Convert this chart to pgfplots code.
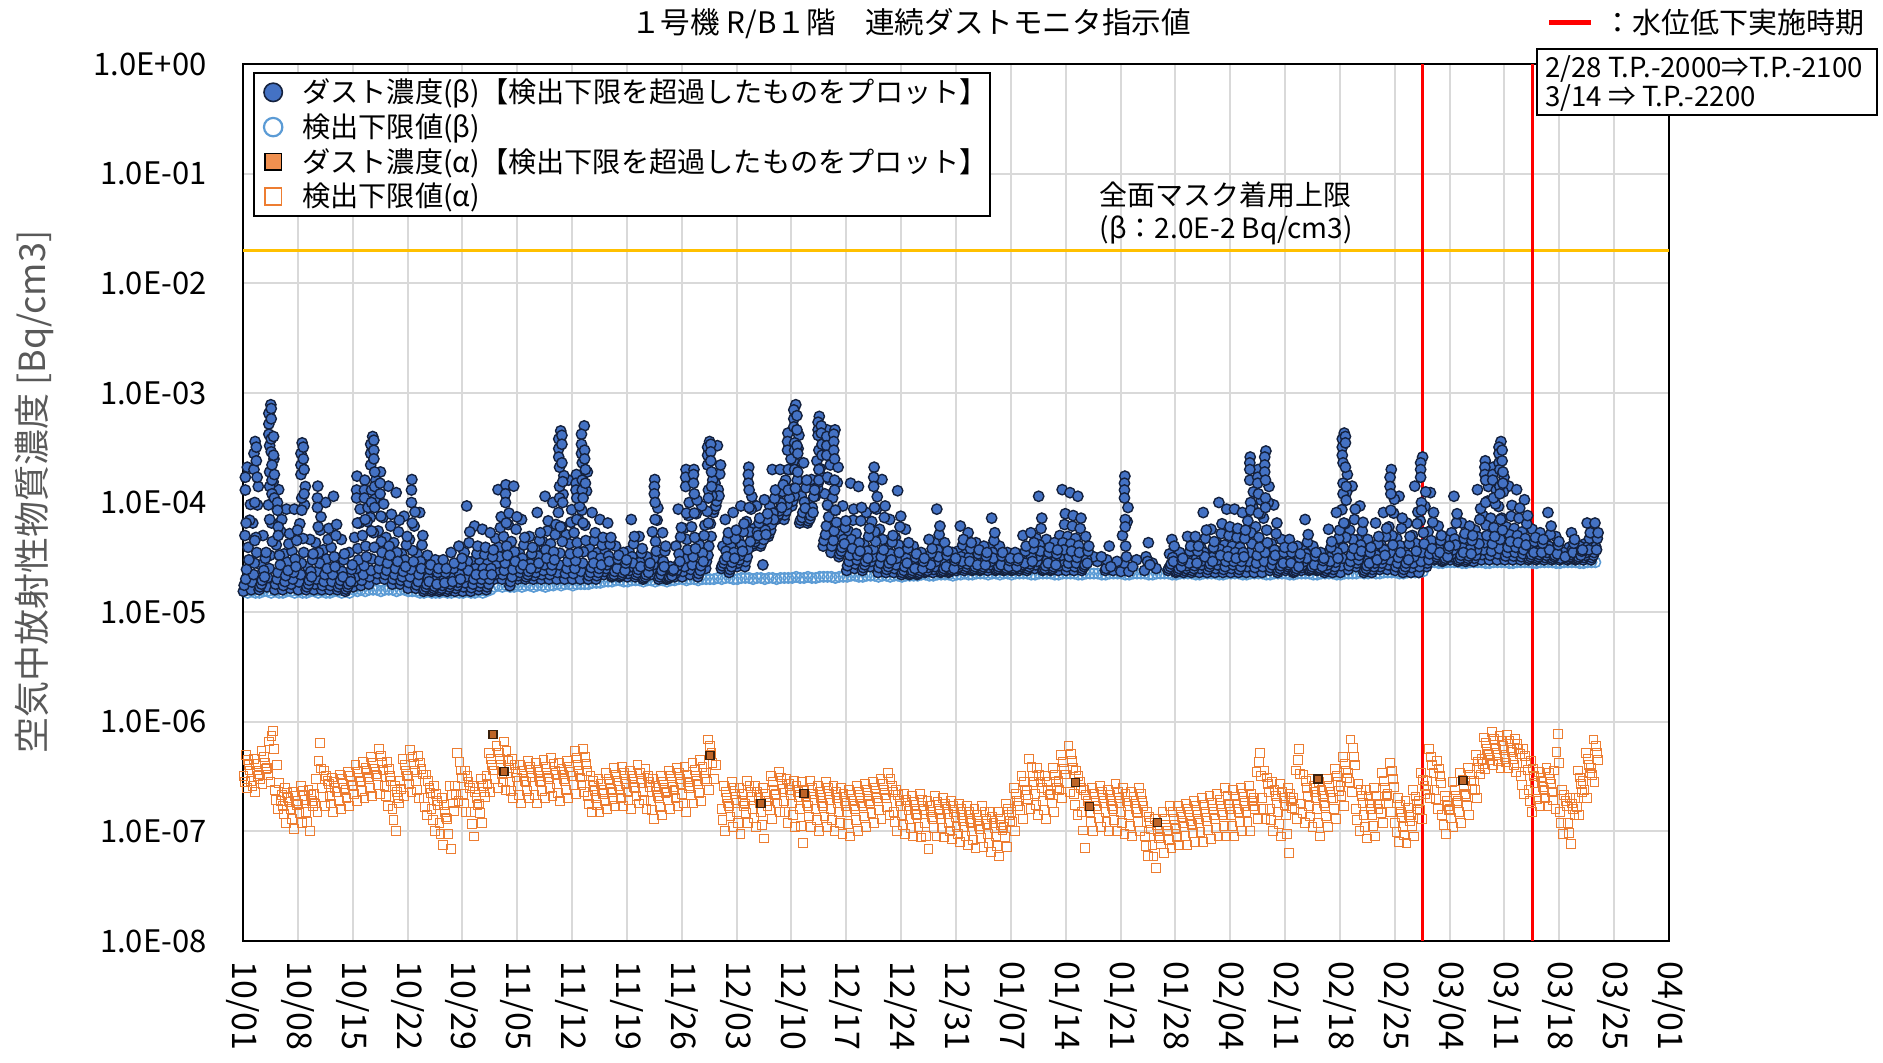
\documentclass[border=0pt]{standalone}
\usepackage{pgfplots}
\pgfplotsset{compat=1.18}
\usepackage{pgfplotstable}
\usepackage{fontspec}
\setmainfont{Noto Sans CJK JP}
\definecolor{betafill}{HTML}{4472C4}
\definecolor{betaedge}{HTML}{14213D}
\definecolor{betalim}{HTML}{5B9BD5}
\definecolor{alphaor}{HTML}{ED7D31}
\definecolor{alphaedge}{HTML}{3A200C}
\definecolor{gold}{HTML}{FFC000}
\definecolor{gridgray}{HTML}{D9D9D9}
\definecolor{labgray}{HTML}{595959}

% beta dust concentration (detected), ten readings per day
\pgfplotstableread[row sep=\\]{
d a h b c i e j f k g\\
0 1.55e-5 1.76e-5 5.0e-5 2.0e-5 2.45e-5 2.1e-4 3.9e-5 3.0e-5 6.9e-5 9.6e-5\\
1 1.6e-5 1.88e-5 6.5e-5 2.2e-5 2.8e-5 3.6e-4 4.8e-5 3.5e-5 9.5e-5 1.4e-4\\
2 1.6e-5 1.7e-5 2.7e-5 1.8e-5 1.95e-5 5.0e-5 2.4e-5 2.1e-5 3.1e-5 3.5e-5\\
3 1.7e-5 2.06e-5 9.5e-5 2.5e-5 3.3e-5 7.8e-4 6.5e-5 4.4e-5 1.54e-4 2.5e-4\\
4 1.6e-5 1.8e-5 4.1e-5 2.0e-5 2.3e-5 1.31e-4 3.3e-5 2.7e-5 5.4e-5 7.0e-5\\
5 1.6e-5 1.75e-5 3.4e-5 1.9e-5 2.15e-5 8.7e-5 2.85e-5 2.4e-5 4.2e-5 5.2e-5\\
6 1.65e-5 1.8e-5 3.6e-5 2.0e-5 2.3e-5 8.7e-5 3.05e-5 2.6e-5 4.5e-5 5.6e-5\\
7 1.6e-5 1.88e-5 6.4e-5 2.2e-5 2.8e-5 3.5e-4 4.7e-5 3.5e-5 9.5e-5 1.4e-4\\
8 1.6e-5 1.7e-5 2.6e-5 1.8e-5 1.95e-5 4.6e-5 2.35e-5 2.1e-5 3.0e-5 3.4e-5\\
9 1.6e-5 1.8e-5 4.3e-5 2.0e-5 2.35e-5 1.41e-4 3.5e-5 2.8e-5 5.6e-5 7.4e-5\\
10 1.6e-5 1.75e-5 3.7e-5 1.9e-5 2.2e-5 1.0e-4 3.05e-5 2.5e-5 4.6e-5 5.8e-5\\
11 1.6e-5 1.75e-5 3.9e-5 1.9e-5 2.2e-5 1.14e-4 3.2e-5 2.6e-5 5.0e-5 6.3e-5\\
12 1.6e-5 1.7e-5 2.6e-5 1.8e-5 1.95e-5 4.6e-5 2.35e-5 2.1e-5 3.0e-5 3.4e-5\\
13 1.55e-5 1.62e-5 2.2e-5 1.7e-5 1.8e-5 3.5e-5 2.05e-5 1.9e-5 2.45e-5 2.7e-5\\
14 1.7e-5 1.9e-5 4.8e-5 2.1e-5 2.5e-5 1.74e-4 3.8e-5 3.0e-5 6.5e-5 8.7e-5\\
15 1.75e-5 1.95e-5 5.0e-5 2.2e-5 2.65e-5 1.6e-4 4.0e-5 3.2e-5 6.7e-5 9.0e-5\\
16 1.8e-5 2.1e-5 7.3e-5 2.4e-5 3.05e-5 4.0e-4 5.3e-5 3.9e-5 1.08e-4 1.6e-4\\
17 2.0e-5 2.25e-5 5.5e-5 2.5e-5 2.95e-5 1.9e-4 4.4e-5 3.5e-5 7.3e-5 9.7e-5\\
18 2.0e-5 2.2e-5 4.8e-5 2.4e-5 2.8e-5 1.41e-4 4.0e-5 3.3e-5 6.1e-5 7.8e-5\\
19 1.8e-5 2.0e-5 4.3e-5 2.2e-5 2.5e-5 1.23e-4 3.5e-5 2.9e-5 5.4e-5 6.9e-5\\
20 1.8e-5 1.95e-5 3.4e-5 2.1e-5 2.35e-5 7.5e-5 3.0e-5 2.6e-5 4.1e-5 4.9e-5\\
21 1.65e-5 1.86e-5 4.6e-5 2.1e-5 2.45e-5 1.62e-4 3.65e-5 2.9e-5 6.1e-5 8.2e-5\\
22 1.65e-5 1.77e-5 3.4e-5 1.9e-5 2.2e-5 8.1e-5 2.9e-5 2.5e-5 4.1e-5 5.0e-5\\
23 1.55e-5 1.62e-5 2.2e-5 1.7e-5 1.8e-5 3.3e-5 2.05e-5 1.9e-5 2.45e-5 2.7e-5\\
24 1.55e-5 1.6e-5 2.1e-5 1.65e-5 1.72e-5 3.0e-5 1.95e-5 1.8e-5 2.3e-5 2.5e-5\\
25 1.55e-5 1.6e-5 2.1e-5 1.65e-5 1.75e-5 3.0e-5 1.97e-5 1.85e-5 2.3e-5 2.5e-5\\
26 1.55e-5 1.62e-5 2.2e-5 1.7e-5 1.8e-5 3.5e-5 2.05e-5 1.9e-5 2.5e-5 2.8e-5\\
27 1.55e-5 1.65e-5 2.4e-5 1.75e-5 1.87e-5 4.0e-5 2.2e-5 2.0e-5 2.7e-5 3.1e-5\\
28 1.55e-5 1.7e-5 3.5e-5 1.85e-5 2.1e-5 9.3e-5 2.9e-5 2.4e-5 4.3e-5 5.4e-5\\
29 1.55e-5 1.67e-5 2.9e-5 1.8e-5 2.0e-5 6.1e-5 2.5e-5 2.2e-5 3.4e-5 4.0e-5\\
30 1.6e-5 1.72e-5 2.9e-5 1.85e-5 2.0e-5 5.7e-5 2.5e-5 2.2e-5 3.35e-5 3.9e-5\\
31 1.6e-5 1.7e-5 2.8e-5 1.8e-5 2.0e-5 5.3e-5 2.5e-5 2.2e-5 3.2e-5 3.7e-5\\
32 2.0e-5 2.2e-5 4.7e-5 2.4e-5 2.8e-5 1.31e-4 3.9e-5 3.2e-5 5.9e-5 7.4e-5\\
33 2.0e-5 2.2e-5 4.9e-5 2.4e-5 2.8e-5 1.45e-4 4.0e-5 3.3e-5 6.3e-5 8.0e-5\\
34 1.74e-5 1.9e-5 4.4e-5 2.1e-5 2.45e-5 1.41e-4 3.55e-5 2.9e-5 5.7e-5 7.4e-5\\
35 2.0e-5 2.15e-5 3.5e-5 2.3e-5 2.5e-5 7.0e-5 3.1e-5 2.7e-5 4.1e-5 4.8e-5\\
36 2.0e-5 2.1e-5 3.0e-5 2.2e-5 2.35e-5 4.9e-5 2.75e-5 2.5e-5 3.4e-5 3.9e-5\\
37 2.0e-5 2.15e-5 3.8e-5 2.3e-5 2.55e-5 8.1e-5 3.25e-5 2.8e-5 4.5e-5 5.3e-5\\
38 2.0e-5 2.2e-5 4.4e-5 2.4e-5 2.7e-5 1.14e-4 3.7e-5 3.1e-5 5.5e-5 6.8e-5\\
39 2.0e-5 2.2e-5 4.2e-5 2.4e-5 2.7e-5 1.0e-4 3.55e-5 3.0e-5 5.1e-5 6.3e-5\\
40 2.0e-5 2.3e-5 8.1e-5 2.7e-5 3.45e-5 4.5e-4 6.0e-5 4.4e-5 1.19e-4 1.76e-4\\
41 2.0e-5 2.25e-5 5.1e-5 2.5e-5 2.9e-5 1.6e-4 4.2e-5 3.4e-5 6.6e-5 8.6e-5\\
42 2.0e-5 2.25e-5 5.3e-5 2.5e-5 2.95e-5 1.8e-4 4.3e-5 3.5e-5 7.0e-5 9.3e-5\\
43 2.0e-5 2.35e-5 8.5e-5 2.8e-5 3.55e-5 5.0e-4 6.2e-5 4.5e-5 1.27e-4 1.9e-4\\
44 2.0e-5 2.15e-5 3.8e-5 2.3e-5 2.55e-5 8.1e-5 3.25e-5 2.8e-5 4.5e-5 5.3e-5\\
45 2.0e-5 2.15e-5 3.5e-5 2.3e-5 2.5e-5 7.0e-5 3.1e-5 2.7e-5 4.1e-5 4.8e-5\\
46 2.2e-5 2.35e-5 3.6e-5 2.5e-5 2.7e-5 6.5e-5 3.25e-5 2.9e-5 4.15e-5 4.8e-5\\
47 2.1e-5 2.15e-5 2.8e-5 2.2e-5 2.35e-5 4.0e-5 2.65e-5 2.5e-5 3.05e-5 3.3e-5\\
48 2.1e-5 2.15e-5 2.6e-5 2.2e-5 2.3e-5 3.5e-5 2.5e-5 2.4e-5 2.8e-5 3.0e-5\\
49 2.1e-5 2.25e-5 3.6e-5 2.4e-5 2.6e-5 7.0e-5 3.2e-5 2.8e-5 4.2e-5 4.9e-5\\
50 2.1e-5 2.2e-5 3.1e-5 2.3e-5 2.45e-5 4.9e-5 2.85e-5 2.6e-5 3.45e-5 3.8e-5\\
51 2.0e-5 2.05e-5 2.5e-5 2.1e-5 2.2e-5 3.2e-5 2.4e-5 2.3e-5 2.65e-5 2.8e-5\\
52 2.2e-5 2.45e-5 5.4e-5 2.7e-5 3.1e-5 1.62e-4 4.4e-5 3.6e-5 6.9e-5 8.9e-5\\
53 2.0e-5 2.1e-5 3.2e-5 2.2e-5 2.4e-5 5.3e-5 2.9e-5 2.6e-5 3.6e-5 4.0e-5\\
54 2.0e-5 2.02e-5 2.3e-5 2.05e-5 2.1e-5 2.6e-5 2.22e-5 2.15e-5 2.38e-5 2.45e-5\\
55 2.1e-5 2.25e-5 4.0e-5 2.4e-5 2.65e-5 8.7e-5 3.4e-5 2.9e-5 4.85e-5 5.9e-5\\
56 2.1e-5 2.35e-5 5.8e-5 2.6e-5 3.1e-5 2.0e-4 4.6e-5 3.7e-5 7.6e-5 1.0e-4\\
57 2.2e-5 2.45e-5 6.0e-5 2.7e-5 3.2e-5 2.0e-4 4.8e-5 3.8e-5 7.9e-5 1.05e-4\\
58 2.1e-5 2.25e-5 4.1e-5 2.4e-5 2.65e-5 9.3e-5 3.45e-5 2.9e-5 5.0e-5 6.2e-5\\
59 2.5e-5 2.9e-5 8.3e-5 3.3e-5 4.0e-5 3.6e-4 6.4e-5 4.9e-5 1.15e-4 1.6e-4\\
60 8.1e-5 8.7e-5 1.5e-4 9.3e-5 1.03e-4 3.3e-4 1.31e-4 1.15e-4 1.82e-4 2.2e-4\\
61 2.5e-5 2.65e-5 4.0e-5 2.8e-5 3.0e-5 7.0e-5 3.6e-5 3.2e-5 4.6e-5 5.3e-5\\
62 2.3e-5 2.45e-5 4.0e-5 2.6e-5 2.85e-5 8.1e-5 3.5e-5 3.1e-5 4.7e-5 5.6e-5\\
63 2.6e-5 2.8e-5 4.6e-5 3.0e-5 3.3e-5 9.3e-5 4.1e-5 3.6e-5 5.4e-5 6.4e-5\\
64 2.6e-5 2.9e-5 6.7e-5 3.2e-5 3.75e-5 2.1e-4 5.4e-5 4.4e-5 8.7e-5 1.13e-4\\
65 4.0e-5 4.2e-5 5.8e-5 4.4e-5 4.7e-5 9.3e-5 5.4e-5 5.0e-5 6.5e-5 7.2e-5\\
66 4.0e-5 4.2e-5 6.2e-5 2.7e-5 4.6e-5 1.06e-4 5.6e-5 5.1e-5 7.0e-5 7.9e-5\\
67 4.9e-5 5.2e-5 9.2e-5 5.6e-5 6.3e-5 2.0e-4 8.0e-5 7.0e-5 1.09e-4 1.3e-4\\
68 7.0e-5 7.4e-5 1.1e-4 7.8e-5 8.4e-5 2.0e-4 9.9e-5 9.0e-5 1.26e-4 1.45e-4\\
69 7.0e-5 7.7e-5 1.6e-4 8.4e-5 9.6e-5 4.3e-4 1.33e-4 1.1e-4 2.0e-4 2.5e-4\\
70 9.3e-5 1.03e-4 2.4e-4 1.15e-4 1.36e-4 7.8e-4 1.96e-4 1.6e-4 3.1e-4 4.1e-4\\
71 6.5e-5 6.9e-5 1.15e-4 7.3e-5 8.1e-5 2.3e-4 1.01e-4 8.9e-5 1.36e-4 1.6e-4\\
72 6.5e-5 6.8e-5 9.9e-5 7.1e-5 7.6e-5 1.62e-4 9.0e-5 8.1e-5 1.13e-4 1.3e-4\\
73 1.14e-4 1.24e-4 2.4e-4 1.35e-4 1.53e-4 6.1e-4 2.04e-4 1.74e-4 2.98e-4 3.7e-4\\
74 4.0e-5 4.5e-5 1.2e-4 5.1e-5 6.1e-5 4.6e-4 9.4e-5 7.4e-5 1.62e-4 2.2e-4\\
75 3.5e-5 4.0e-5 1.1e-4 4.5e-5 5.5e-5 4.6e-4 8.5e-5 6.6e-5 1.52e-4 2.1e-4\\
76 3.2e-5 3.4e-5 5.1e-5 3.6e-5 3.9e-5 9.3e-5 4.6e-5 4.2e-5 5.9e-5 6.8e-5\\
77 2.4e-5 2.65e-5 5.5e-5 2.9e-5 3.3e-5 1.5e-4 4.6e-5 3.8e-5 6.9e-5 8.7e-5\\
78 2.5e-5 2.75e-5 5.2e-5 3.0e-5 3.3e-5 1.4e-4 4.3e-5 3.6e-5 6.8e-5 9.0e-5\\
79 2.4e-5 2.55e-5 4.2e-5 2.7e-5 2.9e-5 8.1e-5 3.6e-5 3.1e-5 4.9e-5 5.8e-5\\
80 2.6e-5 2.9e-5 6.7e-5 3.2e-5 3.75e-5 2.1e-4 5.4e-5 4.4e-5 8.7e-5 1.13e-4\\
81 2.3e-5 2.55e-5 5.7e-5 2.8e-5 3.2e-5 1.62e-4 4.6e-5 3.7e-5 7.3e-5 9.3e-5\\
82 2.3e-5 2.45e-5 3.8e-5 2.6e-5 2.8e-5 7.0e-5 3.4e-5 3.0e-5 4.35e-5 5.0e-5\\
83 2.3e-5 2.5e-5 4.8e-5 2.7e-5 3.1e-5 1.28e-4 4.1e-5 3.5e-5 6.0e-5 7.5e-5\\
84 2.2e-5 2.3e-5 3.4e-5 2.4e-5 2.6e-5 5.7e-5 3.1e-5 2.8e-5 3.8e-5 4.3e-5\\
85 2.2e-5 2.25e-5 2.9e-5 2.3e-5 2.4e-5 4.0e-5 2.7e-5 2.5e-5 3.15e-5 3.4e-5\\
86 2.2e-5 2.25e-5 2.7e-5 2.3e-5 2.4e-5 3.5e-5 2.6e-5 2.5e-5 2.9e-5 3.1e-5\\
87 2.3e-5 2.35e-5 3.1e-5 2.4e-5 2.55e-5 4.6e-5 2.9e-5 2.7e-5 3.45e-5 3.8e-5\\
88 2.3e-5 2.45e-5 4.3e-5 2.6e-5 2.9e-5 8.7e-5 3.7e-5 3.2e-5 5.1e-5 6.1e-5\\
89 2.3e-5 2.35e-5 3.0e-5 2.4e-5 2.5e-5 4.3e-5 2.8e-5 2.6e-5 3.3e-5 3.6e-5\\
90 2.3e-5 2.35e-5 2.8e-5 2.4e-5 2.45e-5 3.5e-5 2.65e-5 2.5e-5 2.95e-5 3.1e-5\\
91 2.4e-5 2.5e-5 3.6e-5 2.6e-5 2.75e-5 6.1e-5 3.2e-5 2.9e-5 4.1e-5 4.6e-5\\
92 2.4e-5 2.5e-5 3.4e-5 2.6e-5 2.75e-5 5.3e-5 3.15e-5 2.9e-5 3.8e-5 4.3e-5\\
93 2.4e-5 2.45e-5 3.1e-5 2.5e-5 2.6e-5 4.3e-5 2.9e-5 2.7e-5 3.4e-5 3.7e-5\\
94 2.4e-5 2.45e-5 3.0e-5 2.5e-5 2.6e-5 4.0e-5 2.85e-5 2.7e-5 3.25e-5 3.5e-5\\
95 2.4e-5 2.55e-5 3.9e-5 2.7e-5 2.9e-5 7.2e-5 3.5e-5 3.1e-5 4.5e-5 5.3e-5\\
96 2.4e-5 2.45e-5 3.0e-5 2.5e-5 2.6e-5 4.0e-5 2.85e-5 2.7e-5 3.25e-5 3.5e-5\\
97 2.4e-5 2.42e-5 2.8e-5 2.45e-5 2.52e-5 3.5e-5 2.7e-5 2.6e-5 2.95e-5 3.1e-5\\
98 2.4e-5 2.42e-5 2.8e-5 2.45e-5 2.52e-5 3.5e-5 2.7e-5 2.6e-5 2.95e-5 3.1e-5\\
99 2.4e-5 2.5e-5 3.3e-5 2.6e-5 2.7e-5 5.0e-5 3.05e-5 2.8e-5 3.6e-5 4.0e-5\\
100 2.4e-5 2.5e-5 3.4e-5 2.6e-5 2.75e-5 5.3e-5 3.15e-5 2.9e-5 3.8e-5 4.3e-5\\
101 2.5e-5 2.7e-5 4.7e-5 2.9e-5 3.25e-5 1.14e-4 4.1e-5 3.6e-5 5.8e-5 7.2e-5\\
102 2.4e-5 2.45e-5 3.2e-5 2.5e-5 2.65e-5 4.6e-5 3.0e-5 2.8e-5 3.5e-5 3.9e-5\\
103 2.4e-5 2.45e-5 3.1e-5 2.5e-5 2.6e-5 4.3e-5 2.9e-5 2.7e-5 3.4e-5 3.7e-5\\
104 2.4e-5 2.65e-5 5.0e-5 2.9e-5 3.3e-5 1.31e-4 4.3e-5 3.7e-5 6.3e-5 7.9e-5\\
105 2.4e-5 2.6e-5 4.9e-5 2.8e-5 3.2e-5 1.23e-4 4.2e-5 3.6e-5 6.1e-5 7.6e-5\\
106 2.4e-5 2.6e-5 4.7e-5 2.8e-5 3.15e-5 1.14e-4 4.05e-5 3.5e-5 5.8e-5 7.2e-5\\
107 2.4e-5 2.5e-5 3.3e-5 2.6e-5 2.7e-5 4.9e-5 3.05e-5 2.8e-5 3.6e-5 4.0e-5\\
108 3.0e-5 nan nan nan nan 3.2e-5 nan nan nan nan\\
109 2.9e-5 nan nan nan nan 3.2e-5 nan nan nan nan\\
110 2.4e-5 2.5e-5 3.0e-5 nan nan 4.0e-5 nan 2.6e-5 nan nan\\
111 2.4e-5 nan nan nan nan 2.9e-5 nan nan nan nan\\
112 2.35e-5 nan 5.0e-5 nan 2.8e-5 1.74e-4 4.0e-5 3.2e-5 6.7e-5 9.0e-5\\
113 2.35e-5 nan nan nan nan 2.6e-5 nan nan nan nan\\
114 3.0e-5 nan nan nan nan nan nan nan nan nan\\
115 2.4e-5 nan 3.2e-5 nan 2.9e-5 4.3e-5 nan 2.7e-5 nan nan\\
116 2.8e-5 nan nan nan nan 2.5e-5 nan nan nan nan\\
118 2.4e-5 2.5e-5 3.4e-5 2.6e-5 2.75e-5 4.6e-5 3.15e-5 2.9e-5 4.0e-5 nan\\
119 2.3e-5 2.35e-5 2.8e-5 2.4e-5 2.5e-5 3.5e-5 2.7e-5 2.6e-5 2.95e-5 3.1e-5\\
120 2.3e-5 2.4e-5 3.2e-5 2.5e-5 2.65e-5 4.9e-5 3.0e-5 2.8e-5 3.6e-5 4.0e-5\\
121 2.3e-5 2.4e-5 3.3e-5 2.5e-5 2.65e-5 4.9e-5 3.05e-5 2.8e-5 3.6e-5 4.0e-5\\
122 2.3e-5 2.5e-5 3.9e-5 2.7e-5 2.95e-5 8.1e-5 3.5e-5 3.2e-5 4.7e-5 5.6e-5\\
123 2.3e-5 2.45e-5 3.4e-5 2.6e-5 2.75e-5 5.7e-5 3.15e-5 2.9e-5 3.9e-5 4.4e-5\\
124 2.3e-5 2.5e-5 4.3e-5 2.7e-5 3.0e-5 1.0e-4 3.75e-5 3.3e-5 5.2e-5 6.4e-5\\
125 2.3e-5 2.45e-5 4.1e-5 2.6e-5 2.9e-5 8.7e-5 3.6e-5 3.2e-5 5.0e-5 6.0e-5\\
126 2.3e-5 2.5e-5 4.0e-5 2.7e-5 2.9e-5 8.7e-5 3.5e-5 3.1e-5 4.8e-5 5.8e-5\\
127 2.3e-5 2.45e-5 3.9e-5 2.6e-5 2.9e-5 8.1e-5 3.5e-5 3.2e-5 4.7e-5 5.6e-5\\
128 2.3e-5 2.6e-5 6.8e-5 2.9e-5 3.5e-5 2.6e-4 5.3e-5 4.2e-5 9.2e-5 1.25e-4\\
129 2.3e-5 2.55e-5 6.0e-5 2.8e-5 3.3e-5 2.0e-4 4.8e-5 3.9e-5 7.9e-5 1.05e-4\\
130 2.3e-5 2.6e-5 7.2e-5 2.9e-5 3.5e-5 2.95e-4 5.6e-5 4.3e-5 1.0e-4 1.4e-4\\
131 2.4e-5 2.55e-5 4.2e-5 2.7e-5 3.0e-5 9.5e-5 3.7e-5 3.3e-5 5.2e-5 6.5e-5\\
132 2.3e-5 2.4e-5 3.2e-5 2.5e-5 2.65e-5 4.6e-5 3.0e-5 2.8e-5 3.5e-5 3.9e-5\\
133 2.4e-5 2.5e-5 3.2e-5 2.6e-5 2.7e-5 4.6e-5 3.0e-5 2.8e-5 3.5e-5 3.9e-5\\
134 2.3e-5 2.35e-5 2.9e-5 2.4e-5 2.5e-5 4.0e-5 2.75e-5 2.6e-5 3.15e-5 3.4e-5\\
135 2.4e-5 2.55e-5 3.7e-5 2.7e-5 2.9e-5 7.0e-5 3.4e-5 3.1e-5 4.35e-5 5.1e-5\\
136 2.4e-5 2.45e-5 3.0e-5 2.5e-5 2.6e-5 4.0e-5 2.85e-5 2.7e-5 3.25e-5 3.5e-5\\
137 2.4e-5 2.42e-5 2.8e-5 2.45e-5 2.52e-5 3.5e-5 2.7e-5 2.6e-5 2.95e-5 3.1e-5\\
138 2.3e-5 2.4e-5 3.4e-5 2.5e-5 2.7e-5 5.7e-5 3.15e-5 2.9e-5 3.9e-5 4.4e-5\\
139 2.3e-5 2.45e-5 3.9e-5 2.6e-5 2.85e-5 8.1e-5 3.5e-5 3.1e-5 4.7e-5 5.6e-5\\
140 2.3e-5 2.65e-5 8.6e-5 3.1e-5 3.85e-5 4.3e-4 6.4e-5 4.8e-5 1.24e-4 1.8e-4\\
141 2.45e-5 2.65e-5 5.6e-5 2.9e-5 3.3e-5 1.41e-4 4.6e-5 3.8e-5 7.0e-5 8.7e-5\\
142 2.6e-5 2.8e-5 4.6e-5 3.0e-5 3.3e-5 9.3e-5 4.1e-5 3.6e-5 5.5e-5 6.6e-5\\
143 2.3e-5 2.4e-5 3.2e-5 2.5e-5 2.65e-5 4.6e-5 3.0e-5 2.8e-5 3.5e-5 3.9e-5\\
144 2.3e-5 2.45e-5 3.6e-5 2.6e-5 2.8e-5 6.5e-5 3.3e-5 3.0e-5 4.2e-5 4.9e-5\\
145 2.45e-5 2.6e-5 4.1e-5 2.8e-5 3.05e-5 8.1e-5 3.7e-5 3.3e-5 4.9e-5 5.8e-5\\
146 2.45e-5 2.7e-5 6.0e-5 3.0e-5 3.5e-5 2.0e-4 5.0e-5 4.1e-5 8.0e-5 1.07e-4\\
147 2.4e-5 2.6e-5 4.7e-5 2.8e-5 3.15e-5 1.14e-4 4.05e-5 3.5e-5 5.8e-5 7.2e-5\\
148 2.3e-5 2.45e-5 3.6e-5 2.6e-5 2.8e-5 6.5e-5 3.3e-5 3.0e-5 4.2e-5 4.9e-5\\
149 2.3e-5 2.55e-5 5.0e-5 2.8e-5 3.2e-5 1.41e-4 4.25e-5 3.6e-5 6.4e-5 8.2e-5\\
150 2.3e-5 2.6e-5 6.8e-5 2.9e-5 3.5e-5 2.6e-4 5.3e-5 4.2e-5 9.2e-5 1.25e-4\\
151 2.6e-5 2.8e-5 5.4e-5 3.0e-5 3.4e-5 1.23e-4 4.5e-5 3.8e-5 6.6e-5 8.1e-5\\
152 3.0e-5 3.1e-5 4.1e-5 3.2e-5 3.35e-5 6.1e-5 3.8e-5 3.5e-5 4.5e-5 5.0e-5\\
153 2.9e-5 2.95e-5 3.6e-5 3.0e-5 3.1e-5 4.6e-5 3.4e-5 3.2e-5 3.8e-5 4.0e-5\\
154 3.0e-5 3.2e-5 5.3e-5 3.4e-5 3.7e-5 1.14e-4 4.65e-5 4.1e-5 6.5e-5 7.9e-5\\
155 2.9e-5 3.0e-5 4.2e-5 3.1e-5 3.3e-5 6.5e-5 3.85e-5 3.5e-5 4.7e-5 5.2e-5\\
156 2.9e-5 3.0e-5 4.1e-5 3.1e-5 3.25e-5 6.1e-5 3.75e-5 3.4e-5 4.5e-5 5.0e-5\\
157 2.9e-5 3.1e-5 5.6e-5 3.3e-5 3.7e-5 1.31e-4 4.85e-5 4.2e-5 7.0e-5 8.8e-5\\
158 3.0e-5 3.35e-5 7.6e-5 3.7e-5 4.3e-5 2.4e-4 6.2e-5 5.0e-5 1.03e-4 1.4e-4\\
159 3.0e-5 3.3e-5 7.2e-5 3.6e-5 4.2e-5 2.1e-4 5.9e-5 4.9e-5 9.7e-5 1.3e-4\\
160 3.0e-5 3.4e-5 9.2e-5 3.8e-5 4.6e-5 3.6e-4 7.2e-5 5.6e-5 1.25e-4 1.7e-4\\
161 3.0e-5 3.25e-5 6.0e-5 3.5e-5 3.9e-5 1.41e-4 5.1e-5 4.4e-5 7.5e-5 9.4e-5\\
162 3.0e-5 3.25e-5 5.8e-5 3.5e-5 3.9e-5 1.31e-4 5.0e-5 4.3e-5 7.2e-5 8.9e-5\\
163 3.0e-5 3.2e-5 5.4e-5 3.4e-5 3.7e-5 1.06e-4 4.7e-5 4.1e-5 6.4e-5 7.6e-5\\
164 3.0e-5 3.1e-5 4.0e-5 3.2e-5 3.35e-5 5.7e-5 3.75e-5 3.5e-5 4.4e-5 4.8e-5\\
165 3.0e-5 3.1e-5 3.9e-5 3.2e-5 3.35e-5 5.3e-5 3.7e-5 3.5e-5 4.25e-5 4.6e-5\\
166 3.0e-5 3.15e-5 4.3e-5 3.3e-5 3.5e-5 8.1e-5 4.0e-5 3.7e-5 5.1e-5 6.1e-5\\
167 3.0e-5 3.1e-5 3.8e-5 3.2e-5 3.3e-5 4.9e-5 3.6e-5 3.4e-5 4.1e-5 4.4e-5\\
168 3.0e-5 3.1e-5 nan nan nan 3.5e-5 nan 3.2e-5 nan nan\\
169 3.0e-5 3.1e-5 3.9e-5 3.2e-5 3.35e-5 5.3e-5 3.7e-5 3.5e-5 4.25e-5 4.6e-5\\
170 3.0e-5 3.05e-5 3.5e-5 3.1e-5 3.2e-5 4.0e-5 3.4e-5 3.3e-5 3.6e-5 3.7e-5\\
171 3.0e-5 3.15e-5 4.2e-5 3.3e-5 3.5e-5 6.5e-5 3.95e-5 3.7e-5 4.7e-5 5.3e-5\\
172 3.0e-5 3.15e-5 4.2e-5 3.3e-5 3.5e-5 6.5e-5 3.95e-5 3.7e-5 4.7e-5 5.3e-5\\
}\betatab

% beta detection limit
\pgfplotstableread[row sep=\\]{
d l m\\
0 1.55e-5 1.5e-5\\ 1 1.55e-5 1.5e-5\\ 2 1.5e-5 1.55e-5\\ 3 1.55e-5 1.5e-5\\ 4 1.55e-5 1.5e-5\\
5 1.5e-5 1.55e-5\\ 6 1.55e-5 1.5e-5\\ 7 1.55e-5 1.5e-5\\ 8 1.5e-5 1.55e-5\\ 9 1.55e-5 1.5e-5\\
10 1.55e-5 1.5e-5\\ 11 1.5e-5 1.55e-5\\ 12 1.55e-5 1.5e-5\\ 13 1.55e-5 1.5e-5\\ 14 1.6e-5 1.55e-5\\
15 1.6e-5 1.55e-5\\ 16 1.6e-5 1.6e-5\\ 17 1.6e-5 1.55e-5\\ 18 1.6e-5 1.6e-5\\ 19 1.6e-5 1.55e-5\\
20 1.6e-5 1.6e-5\\ 21 1.55e-5 1.55e-5\\ 22 1.55e-5 1.5e-5\\ 23 1.5e-5 1.55e-5\\ 24 1.5e-5 1.5e-5\\
25 1.5e-5 1.55e-5\\ 26 1.5e-5 1.5e-5\\ 27 1.55e-5 1.5e-5\\ 28 1.5e-5 1.55e-5\\ 29 1.5e-5 1.5e-5\\
30 1.55e-5 1.5e-5\\ 31 1.55e-5 1.6e-5\\ 32 1.7e-5 1.75e-5\\ 33 1.7e-5 1.75e-5\\ 34 1.7e-5 1.7e-5\\
35 1.75e-5 1.7e-5\\ 36 1.75e-5 1.75e-5\\ 37 1.7e-5 1.75e-5\\ 38 1.75e-5 1.7e-5\\ 39 1.75e-5 1.75e-5\\
40 1.8e-5 1.75e-5\\ 41 1.8e-5 1.8e-5\\ 42 1.75e-5 1.8e-5\\ 43 1.8e-5 1.8e-5\\ 44 1.8e-5 1.85e-5\\
45 1.85e-5 1.85e-5\\ 46 1.9e-5 1.9e-5\\ 47 1.9e-5 1.95e-5\\ 48 1.95e-5 1.9e-5\\ 49 1.9e-5 1.95e-5\\
50 1.95e-5 1.95e-5\\ 51 1.9e-5 1.95e-5\\ 52 1.95e-5 1.9e-5\\ 53 1.95e-5 1.95e-5\\ 54 1.9e-5 1.95e-5\\
55 1.95e-5 2.0e-5\\ 56 2.0e-5 1.95e-5\\ 57 2.0e-5 2.0e-5\\ 58 1.95e-5 2.0e-5\\ 59 2.0e-5 2.0e-5\\
60 2.0e-5 2.05e-5\\ 61 2.0e-5 2.05e-5\\ 62 2.05e-5 2.0e-5\\ 63 2.0e-5 2.05e-5\\ 64 2.05e-5 2.05e-5\\
65 2.0e-5 2.05e-5\\ 66 2.05e-5 2.0e-5\\ 67 2.05e-5 2.05e-5\\ 68 2.0e-5 2.05e-5\\ 69 2.05e-5 2.05e-5\\
70 2.05e-5 2.1e-5\\ 71 2.05e-5 2.05e-5\\ 72 2.1e-5 2.05e-5\\ 73 2.05e-5 2.1e-5\\ 74 2.1e-5 2.1e-5\\
75 2.1e-5 2.05e-5\\ 76 2.1e-5 2.1e-5\\ 77 2.1e-5 2.15e-5\\ 78 2.15e-5 2.1e-5\\ 79 2.1e-5 2.15e-5\\
80 2.15e-5 2.15e-5\\ 81 2.1e-5 2.15e-5\\ 82 2.15e-5 2.1e-5\\ 83 2.15e-5 2.15e-5\\ 84 2.1e-5 2.15e-5\\
85 2.15e-5 2.15e-5\\ 86 2.15e-5 2.2e-5\\ 87 2.2e-5 2.15e-5\\ 88 2.15e-5 2.2e-5\\ 89 2.2e-5 2.2e-5\\
90 2.2e-5 2.15e-5\\ 91 2.2e-5 2.2e-5\\ 92 2.25e-5 2.2e-5\\ 93 2.2e-5 2.25e-5\\ 94 2.25e-5 2.25e-5\\
95 2.2e-5 2.25e-5\\ 96 2.25e-5 2.2e-5\\ 97 2.25e-5 2.25e-5\\ 98 2.2e-5 2.25e-5\\ 99 2.25e-5 2.25e-5\\
100 2.25e-5 2.2e-5\\ 101 2.2e-5 2.25e-5\\ 102 2.25e-5 2.25e-5\\ 103 2.25e-5 2.2e-5\\ 104 2.2e-5 2.25e-5\\
105 2.25e-5 2.25e-5\\ 106 2.25e-5 2.2e-5\\ 107 2.2e-5 2.25e-5\\ 108 2.25e-5 2.25e-5\\ 109 2.25e-5 2.2e-5\\
110 2.2e-5 2.25e-5\\ 111 2.25e-5 2.25e-5\\ 112 2.25e-5 2.2e-5\\ 113 2.2e-5 2.25e-5\\ 114 2.25e-5 2.25e-5\\
115 2.25e-5 2.2e-5\\ 116 2.2e-5 2.25e-5\\ 117 2.25e-5 2.25e-5\\ 118 2.25e-5 2.2e-5\\ 119 2.2e-5 2.25e-5\\
120 2.25e-5 2.25e-5\\ 121 2.25e-5 2.2e-5\\ 122 2.2e-5 2.25e-5\\ 123 2.25e-5 2.25e-5\\ 124 2.25e-5 2.2e-5\\
125 2.2e-5 2.25e-5\\ 126 2.25e-5 2.25e-5\\ 127 2.25e-5 2.2e-5\\ 128 2.2e-5 2.25e-5\\ 129 2.25e-5 2.25e-5\\
130 2.25e-5 2.2e-5\\ 131 2.2e-5 2.25e-5\\ 132 2.25e-5 2.25e-5\\ 133 2.25e-5 2.2e-5\\ 134 2.2e-5 2.25e-5\\
135 2.25e-5 2.25e-5\\ 136 2.25e-5 2.2e-5\\ 137 2.2e-5 2.25e-5\\ 138 2.25e-5 2.25e-5\\ 139 2.25e-5 2.2e-5\\
140 2.2e-5 2.25e-5\\ 141 2.25e-5 2.25e-5\\ 142 2.25e-5 2.3e-5\\ 143 2.25e-5 2.25e-5\\ 144 2.3e-5 2.25e-5\\
145 2.25e-5 2.3e-5\\ 146 2.3e-5 2.3e-5\\ 147 2.3e-5 2.25e-5\\ 148 2.25e-5 2.3e-5\\ 149 2.3e-5 2.3e-5\\
150 2.3e-5 2.35e-5\\ 151 2.8e-5 2.85e-5\\ 152 2.85e-5 2.8e-5\\ 153 2.8e-5 2.85e-5\\ 154 2.85e-5 2.85e-5\\
155 2.85e-5 2.8e-5\\ 156 2.8e-5 2.85e-5\\ 157 2.85e-5 2.85e-5\\ 158 2.85e-5 2.8e-5\\ 159 2.8e-5 2.85e-5\\
160 2.85e-5 2.85e-5\\ 161 2.85e-5 2.8e-5\\ 162 2.8e-5 2.85e-5\\ 163 2.85e-5 2.85e-5\\ 164 2.85e-5 2.8e-5\\
165 2.8e-5 2.85e-5\\ 166 2.85e-5 2.85e-5\\ 167 2.85e-5 2.8e-5\\ 168 2.8e-5 2.85e-5\\ 169 2.85e-5 2.85e-5\\
170 2.85e-5 2.8e-5\\ 171 2.8e-5 2.85e-5\\ 172 2.85e-5 2.85e-5\\
}\betalimtab

% alpha detection limit, seven readings per day
\pgfplotstableread[row sep=\\]{
d p t q r u s v\\
0 3.2e-7 2.8e-7 5.0e-7 2.5e-7 4.5e-7 4.0e-7 3.6e-7\\
1 2.9e-7 2.6e-7 4.6e-7 2.3e-7 4.1e-7 3.6e-7 3.2e-7\\
2 3.3e-7 3.0e-7 5.4e-7 2.7e-7 4.8e-7 4.2e-7 3.7e-7\\
3 3.8e-7 3.25e-7 6.6e-7 2.8e-7 7.4e-7 8.2e-7 5.6e-7\\
4 2.4e-7 1.95e-7 4.0e-7 1.6e-7 2.75e-7 1.9e-7 2.15e-7\\
5 1.7e-7 1.43e-7 2.5e-7 1.2e-7 2.25e-7 2.0e-7 1.85e-7\\
6 1.6e-7 1.3e-7 2.3e-7 1.05e-7 2.1e-7 1.9e-7 1.75e-7\\
7 1.8e-7 1.47e-7 2.6e-7 1.2e-7 2.35e-7 2.1e-7 1.95e-7\\
8 1.5e-7 1.22e-7 2.4e-7 1.0e-7 2.15e-7 1.9e-7 1.7e-7\\
9 2.2e-7 1.8e-7 3.0e-7 1.5e-7 4.4e-7 6.4e-7 3.75e-7\\
10 2.5e-7 2.05e-7 3.6e-7 1.7e-7 3.2e-7 2.9e-7 2.7e-7\\
11 2.1e-7 1.8e-7 3.1e-7 1.5e-7 2.8e-7 2.5e-7 2.3e-7\\
12 2.3e-7 1.9e-7 3.3e-7 1.6e-7 3.0e-7 2.7e-7 2.5e-7\\
13 2.4e-7 2.0e-7 3.5e-7 1.7e-7 3.2e-7 2.9e-7 2.65e-7\\
14 2.6e-7 2.2e-7 4.0e-7 1.9e-7 3.5e-7 3.1e-7 2.85e-7\\
15 2.8e-7 2.35e-7 4.3e-7 2.0e-7 3.8e-7 3.4e-7 3.1e-7\\
16 3.0e-7 2.5e-7 4.8e-7 2.1e-7 4.2e-7 3.7e-7 3.3e-7\\
17 3.2e-7 2.65e-7 5.6e-7 2.2e-7 4.85e-7 4.2e-7 3.65e-7\\
18 2.6e-7 2.1e-7 4.3e-7 1.7e-7 3.7e-7 3.2e-7 2.9e-7\\
19 1.6e-7 1.26e-7 2.6e-7 1.0e-7 2.3e-7 2.0e-7 1.8e-7\\
20 2.9e-7 2.45e-7 4.6e-7 2.1e-7 4.05e-7 3.6e-7 3.2e-7\\
21 3.2e-7 2.7e-7 5.5e-7 2.3e-7 4.75e-7 4.1e-7 3.6e-7\\
22 2.9e-7 2.4e-7 4.9e-7 2.0e-7 4.25e-7 3.7e-7 3.3e-7\\
23 2.0e-7 1.67e-7 3.3e-7 1.4e-7 2.9e-7 2.5e-7 2.25e-7\\
24 1.6e-7 1.26e-7 2.6e-7 1.0e-7 2.2e-7 1.9e-7 1.75e-7\\
25 1.2e-7 9.5e-8 2.0e-7 7.5e-8 1.73e-7 1.5e-7 1.34e-7\\
26 1.3e-7 9.5e-8 2.6e-7 6.9e-8 2.15e-7 1.8e-7 1.53e-7\\
27 2.6e-7 2.2e-7 5.2e-7 1.9e-7 4.3e-7 3.6e-7 3.05e-7\\
28 2.2e-7 1.8e-7 3.6e-7 1.5e-7 3.2e-7 2.8e-7 2.5e-7\\
29 1.5e-7 1.16e-7 2.6e-7 9.0e-8 2.3e-7 2.0e-7 1.73e-7\\
30 1.8e-7 1.47e-7 3.0e-7 1.2e-7 2.6e-7 2.3e-7 2.05e-7\\
31 3.2e-7 2.7e-7 5.2e-7 2.3e-7 4.55e-7 4.0e-7 3.6e-7\\
32 3.6e-7 3.0e-7 6.0e-7 2.5e-7 5.25e-7 4.6e-7 4.05e-7\\
33 3.3e-7 2.8e-7 6.6e-7 2.4e-7 5.4e-7 4.4e-7 3.8e-7\\
34 2.8e-7 2.35e-7 4.6e-7 2.0e-7 4.0e-7 3.5e-7 3.1e-7\\
35 2.6e-7 2.15e-7 4.0e-7 1.8e-7 3.6e-7 3.2e-7 2.9e-7\\
36 2.8e-7 2.35e-7 4.4e-7 2.0e-7 3.9e-7 3.4e-7 3.1e-7\\
37 2.6e-7 2.15e-7 4.2e-7 1.8e-7 3.65e-7 3.2e-7 2.9e-7\\
38 2.8e-7 2.35e-7 4.5e-7 2.0e-7 3.9e-7 3.4e-7 3.1e-7\\
39 3.0e-7 2.5e-7 4.7e-7 2.1e-7 4.1e-7 3.6e-7 3.3e-7\\
40 2.7e-7 2.25e-7 4.2e-7 1.9e-7 3.7e-7 3.3e-7 3.0e-7\\
41 2.9e-7 2.4e-7 4.4e-7 2.0e-7 3.9e-7 3.5e-7 3.2e-7\\
42 3.2e-7 2.65e-7 5.4e-7 2.2e-7 4.65e-7 4.0e-7 3.6e-7\\
43 3.1e-7 2.65e-7 5.6e-7 2.3e-7 4.8e-7 4.1e-7 3.55e-7\\
44 2.1e-7 1.78e-7 3.2e-7 1.5e-7 2.9e-7 2.6e-7 2.35e-7\\
45 2.0e-7 1.73e-7 3.0e-7 1.5e-7 2.7e-7 2.4e-7 2.2e-7\\
46 2.2e-7 1.88e-7 3.4e-7 1.6e-7 3.0e-7 2.7e-7 2.45e-7\\
47 2.3e-7 1.98e-7 3.8e-7 1.7e-7 3.3e-7 2.9e-7 2.6e-7\\
48 2.4e-7 2.0e-7 3.9e-7 1.7e-7 3.4e-7 3.0e-7 2.7e-7\\
49 2.3e-7 1.92e-7 3.6e-7 1.6e-7 3.2e-7 2.8e-7 2.55e-7\\
50 2.5e-7 2.1e-7 4.0e-7 1.8e-7 3.45e-7 3.0e-7 2.75e-7\\
51 2.3e-7 1.92e-7 3.7e-7 1.6e-7 3.2e-7 2.8e-7 2.55e-7\\
52 1.9e-7 1.57e-7 3.0e-7 1.3e-7 2.6e-7 2.3e-7 2.1e-7\\
53 2.0e-7 1.67e-7 3.2e-7 1.4e-7 2.85e-7 2.5e-7 2.25e-7\\
54 2.3e-7 1.92e-7 3.6e-7 1.6e-7 3.2e-7 2.8e-7 2.55e-7\\
55 2.4e-7 2.0e-7 3.8e-7 1.7e-7 3.4e-7 3.0e-7 2.7e-7\\
56 2.2e-7 1.8e-7 3.9e-7 1.5e-7 3.3e-7 2.8e-7 2.5e-7\\
57 2.6e-7 2.15e-7 4.2e-7 1.8e-7 3.65e-7 3.2e-7 2.9e-7\\
58 2.7e-7 2.25e-7 4.5e-7 1.9e-7 3.9e-7 3.4e-7 3.0e-7\\
59 3.4e-7 2.85e-7 6.9e-7 2.4e-7 6.0e-7 5.2e-7 4.2e-7\\
60 3.0e-7 nan 4.0e-7 nan nan nan nan\\
61 1.6e-7 1.26e-7 2.6e-7 1.0e-7 2.3e-7 2.0e-7 1.8e-7\\
62 1.7e-7 1.37e-7 2.8e-7 1.1e-7 2.5e-7 2.2e-7 1.95e-7\\
63 1.5e-7 1.2e-7 2.5e-7 9.5e-8 2.2e-7 1.9e-7 1.7e-7\\
64 1.8e-7 1.47e-7 2.9e-7 1.2e-7 2.6e-7 2.3e-7 2.05e-7\\
65 1.6e-7 1.33e-7 2.6e-7 1.1e-7 2.3e-7 2.0e-7 1.8e-7\\
66 1.5e-7 1.14e-7 2.5e-7 8.6e-8 2.2e-7 1.9e-7 1.7e-7\\
67 1.9e-7 1.57e-7 3.2e-7 1.3e-7 2.8e-7 2.4e-7 2.15e-7\\
68 2.2e-7 1.8e-7 3.5e-7 1.5e-7 3.1e-7 2.7e-7 2.45e-7\\
69 1.9e-7 1.5e-7 3.0e-7 1.2e-7 2.7e-7 2.4e-7 2.15e-7\\
70 1.8e-7 1.4e-7 2.9e-7 1.1e-7 2.6e-7 2.3e-7 2.05e-7\\
71 1.6e-7 1.12e-7 2.8e-7 7.8e-8 2.4e-7 2.1e-7 1.83e-7\\
72 1.7e-7 1.37e-7 2.9e-7 1.1e-7 2.5e-7 2.2e-7 1.95e-7\\
73 1.6e-7 1.26e-7 2.6e-7 1.0e-7 2.3e-7 2.0e-7 1.8e-7\\
74 1.7e-7 1.37e-7 2.8e-7 1.1e-7 2.5e-7 2.2e-7 1.95e-7\\
75 1.6e-7 1.26e-7 2.6e-7 1.0e-7 2.3e-7 2.0e-7 1.8e-7\\
76 1.5e-7 1.2e-7 2.5e-7 9.5e-8 2.2e-7 1.9e-7 1.7e-7\\
77 1.5e-7 1.16e-7 2.4e-7 9.0e-8 2.15e-7 1.9e-7 1.7e-7\\
78 1.6e-7 1.26e-7 2.6e-7 1.0e-7 2.3e-7 2.0e-7 1.8e-7\\
79 1.7e-7 1.37e-7 2.7e-7 1.1e-7 2.4e-7 2.1e-7 1.9e-7\\
80 1.8e-7 1.47e-7 2.8e-7 1.2e-7 2.5e-7 2.2e-7 2.0e-7\\
81 1.9e-7 1.57e-7 3.0e-7 1.3e-7 2.7e-7 2.4e-7 2.15e-7\\
82 2.0e-7 1.67e-7 3.4e-7 1.4e-7 3.0e-7 2.6e-7 2.3e-7\\
83 1.5e-7 1.22e-7 2.4e-7 1.0e-7 2.15e-7 1.9e-7 1.7e-7\\
84 1.4e-7 1.15e-7 2.2e-7 9.5e-8 1.95e-7 1.7e-7 1.55e-7\\
85 1.3e-7 1.08e-7 2.1e-7 9.0e-8 1.85e-7 1.6e-7 1.45e-7\\
86 1.4e-7 1.1e-7 2.2e-7 8.8e-8 1.95e-7 1.7e-7 1.55e-7\\
87 1.2e-7 9.1e-8 1.9e-7 6.9e-8 1.7e-7 1.5e-7 1.35e-7\\
88 1.3e-7 1.08e-7 2.1e-7 9.0e-8 1.85e-7 1.6e-7 1.45e-7\\
89 1.3e-7 1.07e-7 2.0e-7 8.8e-8 1.8e-7 1.6e-7 1.45e-7\\
90 1.2e-7 1.0e-7 1.9e-7 8.5e-8 1.7e-7 1.5e-7 1.35e-7\\
91 1.1e-7 9.4e-8 1.8e-7 8.0e-8 1.6e-7 1.4e-7 1.25e-7\\
92 1.1e-7 9.1e-8 1.7e-7 7.5e-8 1.5e-7 1.3e-7 1.2e-7\\
93 1.0e-7 8.4e-8 1.6e-7 7.0e-8 1.4e-7 1.25e-7 1.12e-7\\
94 1.05e-7 8.7e-8 1.7e-7 7.2e-8 1.5e-7 1.3e-7 1.17e-7\\
95 9.5e-8 7.9e-8 1.5e-7 6.5e-8 1.35e-7 1.2e-7 1.07e-7\\
96 9.0e-8 7.3e-8 1.5e-7 5.9e-8 1.3e-7 1.15e-7 1.02e-7\\
97 1.1e-7 8.9e-8 1.8e-7 7.2e-8 1.6e-7 1.4e-7 1.25e-7\\
98 1.5e-7 1.22e-7 2.5e-7 1.0e-7 2.2e-7 1.9e-7 1.7e-7\\
99 1.9e-7 1.57e-7 3.2e-7 1.3e-7 2.8e-7 2.4e-7 2.15e-7\\
100 2.4e-7 1.96e-7 4.6e-7 1.6e-7 3.85e-7 3.2e-7 2.8e-7\\
101 2.2e-7 1.75e-7 3.8e-7 1.4e-7 3.25e-7 2.8e-7 2.5e-7\\
102 1.9e-7 1.57e-7 3.2e-7 1.3e-7 2.8e-7 2.4e-7 2.15e-7\\
103 2.2e-7 1.8e-7 3.8e-7 1.5e-7 3.25e-7 2.8e-7 2.5e-7\\
104 2.9e-7 2.4e-7 5.0e-7 2.0e-7 4.3e-7 3.7e-7 3.3e-7\\
105 3.3e-7 2.75e-7 6.0e-7 2.3e-7 5.1e-7 4.4e-7 3.8e-7\\
106 2.2e-7 1.75e-7 3.6e-7 1.4e-7 3.2e-7 2.8e-7 2.5e-7\\
107 1.5e-7 1.02e-7 2.4e-7 7.0e-8 2.15e-7 1.9e-7 1.7e-7\\
108 1.5e-7 1.22e-7 2.5e-7 1.0e-7 2.2e-7 1.9e-7 1.7e-7\\
109 1.6e-7 1.33e-7 2.6e-7 1.1e-7 2.3e-7 2.0e-7 1.8e-7\\
110 1.5e-7 1.22e-7 2.4e-7 1.0e-7 2.15e-7 1.9e-7 1.7e-7\\
111 1.6e-7 1.26e-7 2.7e-7 1.0e-7 2.3e-7 2.0e-7 1.8e-7\\
112 1.5e-7 1.2e-7 2.5e-7 9.5e-8 2.2e-7 1.9e-7 1.7e-7\\
113 1.4e-7 1.12e-7 2.3e-7 9.0e-8 2.05e-7 1.8e-7 1.6e-7\\
114 1.5e-7 1.22e-7 2.5e-7 1.0e-7 2.2e-7 1.9e-7 1.7e-7\\
115 9.0e-8 7.3e-8 1.5e-7 6.0e-8 1.35e-7 1.2e-7 1.04e-7\\
116 7.5e-8 5.9e-8 1.3e-7 4.6e-8 1.14e-7 1.0e-7 8.7e-8\\
117 9.0e-8 7.6e-8 1.5e-7 6.4e-8 1.3e-7 1.15e-7 1.02e-7\\
118 1.0e-7 8.4e-8 1.7e-7 7.0e-8 1.5e-7 1.3e-7 1.14e-7\\
119 1.05e-7 8.9e-8 1.7e-7 7.5e-8 1.5e-7 1.35e-7 1.19e-7\\
120 1.1e-7 9.1e-8 1.8e-7 7.5e-8 1.6e-7 1.4e-7 1.24e-7\\
121 1.15e-7 9.6e-8 1.9e-7 8.0e-8 1.7e-7 1.5e-7 1.3e-7\\
122 1.2e-7 9.8e-8 2.0e-7 8.0e-8 1.73e-7 1.5e-7 1.34e-7\\
123 1.25e-7 1.03e-7 2.1e-7 8.5e-8 1.83e-7 1.6e-7 1.41e-7\\
124 1.3e-7 1.08e-7 2.2e-7 9.0e-8 1.93e-7 1.7e-7 1.49e-7\\
125 1.4e-7 1.12e-7 2.5e-7 9.0e-8 2.1e-7 1.8e-7 1.59e-7\\
126 1.4e-7 1.12e-7 2.4e-7 9.0e-8 2.08e-7 1.8e-7 1.59e-7\\
127 1.5e-7 1.22e-7 2.5e-7 1.0e-7 2.2e-7 1.9e-7 1.7e-7\\
128 1.5e-7 1.22e-7 2.6e-7 1.0e-7 2.2e-7 1.9e-7 1.7e-7\\
129 2.0e-7 1.6e-7 3.5e-7 1.3e-7 4.3e-7 5.2e-7 3.2e-7\\
130 2.0e-7 1.6e-7 3.6e-7 1.3e-7 3.1e-7 2.7e-7 2.3e-7\\
131 1.6e-7 1.26e-7 2.8e-7 1.0e-7 2.4e-7 2.1e-7 1.83e-7\\
132 1.5e-7 1.16e-7 2.7e-7 9.0e-8 2.3e-7 2.0e-7 1.73e-7\\
133 1.4e-7 9.5e-8 2.5e-7 6.4e-8 2.2e-7 1.9e-7 1.63e-7\\
134 2.0e-7 1.6e-7 3.6e-7 1.3e-7 4.5e-7 5.6e-7 3.35e-7\\
135 1.8e-7 1.47e-7 3.3e-7 1.2e-7 2.9e-7 2.5e-7 2.1e-7\\
136 1.7e-7 1.37e-7 3.0e-7 1.1e-7 2.6e-7 2.3e-7 2.0e-7\\
137 1.6e-7 1.2e-7 2.8e-7 9.0e-8 2.4e-7 2.1e-7 1.83e-7\\
138 1.7e-7 1.37e-7 3.0e-7 1.1e-7 2.6e-7 2.3e-7 2.0e-7\\
139 2.0e-7 1.6e-7 3.7e-7 1.3e-7 3.2e-7 2.8e-7 2.35e-7\\
140 2.6e-7 2.1e-7 4.8e-7 1.7e-7 4.15e-7 3.6e-7 3.05e-7\\
141 3.4e-7 2.8e-7 6.9e-7 2.3e-7 5.75e-7 4.8e-7 4.05e-7\\
142 1.6e-7 1.26e-7 2.7e-7 1.0e-7 2.4e-7 2.1e-7 1.83e-7\\
143 1.4e-7 1.1e-7 2.4e-7 8.6e-8 2.08e-7 1.8e-7 1.59e-7\\
144 1.4e-7 1.12e-7 2.5e-7 9.0e-8 2.1e-7 1.8e-7 1.59e-7\\
145 1.8e-7 1.47e-7 3.4e-7 1.2e-7 2.9e-7 2.5e-7 2.1e-7\\
146 2.2e-7 1.8e-7 4.2e-7 1.5e-7 3.55e-7 3.0e-7 2.55e-7\\
147 1.2e-7 9.8e-8 2.0e-7 8.0e-8 1.73e-7 1.5e-7 1.34e-7\\
148 1.1e-7 9.3e-8 1.9e-7 7.8e-8 1.63e-7 1.4e-7 1.24e-7\\
149 1.4e-7 1.12e-7 2.4e-7 9.0e-8 2.08e-7 1.8e-7 1.59e-7\\
150 1.9e-7 1.57e-7 3.4e-7 1.3e-7 2.95e-7 2.6e-7 2.2e-7\\
151 2.9e-7 2.4e-7 5.6e-7 2.0e-7 4.75e-7 4.0e-7 3.4e-7\\
152 2.4e-7 1.96e-7 4.4e-7 1.6e-7 3.75e-7 3.2e-7 2.75e-7\\
153 1.4e-7 1.15e-7 2.1e-7 9.5e-8 1.9e-7 1.7e-7 1.55e-7\\
154 1.6e-7 1.33e-7 2.8e-7 1.1e-7 2.4e-7 2.1e-7 1.83e-7\\
155 1.9e-7 1.5e-7 3.4e-7 1.2e-7 2.95e-7 2.6e-7 2.2e-7\\
156 2.1e-7 1.7e-7 3.8e-7 1.4e-7 3.3e-7 2.9e-7 2.45e-7\\
157 2.9e-7 2.4e-7 5.0e-7 2.0e-7 4.35e-7 3.8e-7 3.3e-7\\
158 4.6e-7 4.1e-7 7.2e-7 3.7e-7 6.35e-7 5.6e-7 5.1e-7\\
159 5.0e-7 4.5e-7 8.0e-7 4.0e-7 7.0e-7 6.2e-7 5.6e-7\\
160 5.0e-7 4.35e-7 7.4e-7 3.8e-7 6.65e-7 6.0e-7 5.5e-7\\
161 4.8e-7 4.25e-7 7.6e-7 3.8e-7 6.65e-7 5.8e-7 5.3e-7\\
162 4.6e-7 4.0e-7 7.0e-7 3.5e-7 6.25e-7 5.6e-7 5.1e-7\\
163 3.2e-7 2.65e-7 5.6e-7 2.2e-7 4.85e-7 4.2e-7 3.65e-7\\
164 2.4e-7 1.9e-7 4.4e-7 1.5e-7 3.75e-7 3.2e-7 2.75e-7\\
165 2.3e-7 1.98e-7 3.5e-7 1.7e-7 3.1e-7 2.8e-7 2.55e-7\\
166 2.4e-7 2.0e-7 3.8e-7 1.7e-7 3.4e-7 3.0e-7 2.7e-7\\
167 2.3e-7 1.92e-7 3.6e-7 1.6e-7 5.3e-7 7.7e-7 4.2e-7\\
168 1.5e-7 1.2e-7 2.4e-7 9.5e-8 2.15e-7 1.9e-7 1.7e-7\\
169 1.2e-7 9.6e-8 2.0e-7 7.7e-8 1.8e-7 1.6e-7 1.4e-7\\
170 2.0e-7 1.67e-7 3.6e-7 1.4e-7 3.1e-7 2.7e-7 2.3e-7\\
171 2.9e-7 2.4e-7 5.2e-7 2.0e-7 4.55e-7 4.0e-7 3.4e-7\\
172 3.8e-7 3.25e-7 6.9e-7 2.8e-7 6.0e-7 5.2e-7 4.45e-7\\
}\alphalimtab

\pgfplotsset{
  betadet/.style={only marks, mark=*, mark size=2.6pt, forget plot,
    mark options={fill=betafill, draw=betaedge, line width=0.7pt}},
  betalimst/.style={only marks, mark=o, mark size=2.6pt, forget plot,
    mark options={draw=betalim, line width=0.8pt}},
  alphalimst/.style={only marks, mark=square, mark size=2.2pt, forget plot,
    mark options={draw=alphaor, line width=0.5pt}},
}

\begin{document}
\begin{tikzpicture}
\path[use as bounding box] (0pt,0pt) rectangle (941.5pt,531pt);
\begin{axis}[
  at={(121.5pt,60.5pt)}, anchor=south west,
  width=713pt, height=438.5pt, scale only axis,
  xmin=0, xmax=182, ymin=1e-8, ymax=1, ymode=log,
  xtick={0,7,...,182},
  xticklabels={10/01,10/08,10/15,10/22,10/29,11/05,11/12,11/19,11/26,12/03,12/10,12/17,12/24,12/31,01/07,01/14,01/21,01/28,02/04,02/11,02/18,02/25,03/04,03/11,03/18,03/25,04/01},
  ytick={1e-8,1e-7,1e-6,1e-5,1e-4,1e-3,1e-2,1e-1,1},
  yticklabels={1.0E-08,1.0E-07,1.0E-06,1.0E-05,1.0E-04,1.0E-03,1.0E-02,1.0E-01,1.0E+00},
  yminorticks=false,
  grid=major, major grid style={gridgray, line width=1pt},
  major tick length=0pt,
  axis line style={black, line width=1pt},
  xticklabel style={rotate=-90, anchor=west, font=\fontsize{17}{17}\selectfont, inner sep=0pt},
  yticklabel style={anchor=east, font=\fontsize{15.5}{15.5}\selectfont, inner sep=0pt},
  xticklabel shift=10pt, yticklabel shift=18pt,
  legend cell align=left,
  legend style={at={(0.007,0.991)}, anchor=north west, draw=black, line width=1pt,
    fill=white, font=\fontsize{14.1}{16}\selectfont, row sep=0pt, column sep=8pt,
    inner xsep=5pt, inner ysep=1pt, nodes={inner sep=2pt}},
]
% legend images
\addlegendimage{only marks, mark=*, mark size=4.6pt, mark options={fill=betafill, draw=betaedge, line width=0.8pt}}
\addlegendentry{ダスト濃度(β)【検出下限を超過したものをプロット】\kern-6pt}
\addlegendimage{only marks, mark=o, mark size=4.6pt, mark options={draw=betalim, line width=1.1pt}}
\addlegendentry{検出下限値(β)}
\addlegendimage{only marks, mark=square*, mark size=4.2pt, mark options={fill=alphaor!85!white, draw=black, line width=0.9pt}}
\addlegendentry{ダスト濃度(α)【検出下限を超過したものをプロット】\kern-6pt}
\addlegendimage{only marks, mark=square, mark size=4.2pt, mark options={draw=alphaor, line width=0.9pt}}
\addlegendentry{検出下限値(α)}

% beta detection limit
\addplot[betalimst] table[x expr=\thisrow{d}+0.1, y=l] {\betalimtab};
\addplot[betalimst] table[x expr=\thisrow{d}+0.6, y=m] {\betalimtab};
% beta detected
\addplot[betadet] table[x expr=\thisrow{d}+0.05, y=a] {\betatab};
\addplot[betadet] table[x expr=\thisrow{d}+0.15, y=h] {\betatab};
\addplot[betadet] table[x expr=\thisrow{d}+0.25, y=b] {\betatab};
\addplot[betadet] table[x expr=\thisrow{d}+0.35, y=c] {\betatab};
\addplot[betadet] table[x expr=\thisrow{d}+0.45, y=i] {\betatab};
\addplot[betadet] table[x expr=\thisrow{d}+0.55, y=e] {\betatab};
\addplot[betadet] table[x expr=\thisrow{d}+0.65, y=j] {\betatab};
\addplot[betadet] table[x expr=\thisrow{d}+0.75, y=f] {\betatab};
\addplot[betadet] table[x expr=\thisrow{d}+0.85, y=k] {\betatab};
\addplot[betadet] table[x expr=\thisrow{d}+0.95, y=g] {\betatab};
% beta detected, extra readings in the tall peaks
\addplot[betadet] coordinates {
(0.3,1.3e-4) (0.3,1.7e-4) (0.4,6.5e-5)
(1.4,2.0e-4) (1.4,2.8e-4) (1.5,1.0e-4) (1.5,4.5e-5) (1.7,3.2e-4) (1.7,2.4e-4) (1.8,1.7e-4)
(3.3,6.5e-4) (3.3,5.2e-4) (3.3,4.2e-4) (3.4,3.3e-4) (3.4,1.9e-4) (3.4,1.4e-4) (3.4,7.0e-5)
(3.6,7.2e-4) (3.6,5.8e-4) (3.6,3.8e-4) (3.6,2.9e-4) (3.7,2.2e-4) (3.7,1.6e-4) (3.7,1.2e-4)
(3.9,4.0e-4) (3.9,2.7e-4) (4.0,1.8e-4) (4.0,1.1e-4)
(4.4,1.0e-4) (4.4,8.5e-5) (4.5,6.0e-5) (4.5,5.0e-5)
(7.4,2.8e-4) (7.4,2.2e-4) (7.4,1.8e-4) (7.5,1.1e-4) (7.5,8.5e-5)
(7.7,3.2e-4) (7.7,2.5e-4) (7.8,2.0e-4) (7.8,1.2e-4)
(9.5,1.1e-4) (9.5,9.0e-5) (9.6,6.0e-5)
(14.5,1.3e-4) (14.5,1.1e-4) (14.6,6.5e-5) (15.5,1.3e-4) (15.5,1.1e-4) (15.6,7.0e-5)
(16.3,3.4e-4) (16.3,2.8e-4) (16.3,2.2e-4) (16.4,1.3e-4) (16.4,1.0e-4) (16.4,5.5e-5)
(16.7,3.7e-4) (16.7,3.0e-4) (16.7,2.5e-4) (16.8,1.9e-4) (16.8,1.4e-4) (16.8,9.0e-5)
(17.5,1.5e-4) (17.5,1.2e-4) (17.6,7.5e-5)
(21.5,1.3e-4) (21.5,1.0e-4) (21.6,6.5e-5)
(33.5,1.2e-4) (33.5,1.0e-4) (33.6,6.5e-5)
(40.3,3.8e-4) (40.3,3.1e-4) (40.3,2.6e-4) (40.4,2.1e-4) (40.4,1.4e-4) (40.4,1.1e-4) (40.5,6.0e-5)
(40.7,4.1e-4) (40.7,3.4e-4) (40.7,2.3e-4) (40.8,1.55e-4) (40.8,1.0e-4)
(42.5,1.5e-4) (42.5,1.3e-4) (42.6,1.1e-4) (42.6,7.0e-5)
(43.2,4.2e-4) (43.2,3.4e-4) (43.2,2.8e-4) (43.3,2.3e-4) (43.3,1.6e-4) (43.3,1.3e-4) (43.4,1.1e-4) (43.4,6.5e-5)
(43.6,3.0e-4) (43.6,2.5e-4) (43.7,2.0e-4) (43.7,1.5e-4)
(52.5,1.4e-4) (52.5,1.2e-4) (52.6,1.0e-4) (52.6,7.0e-5)
(56.5,1.7e-4) (56.5,1.4e-4) (56.6,8.0e-5) (57.5,1.8e-4) (57.5,1.5e-4) (57.6,1.2e-4) (57.6,8.0e-5)
(59.3,3.2e-4) (59.3,2.7e-4) (59.3,2.2e-4) (59.4,1.3e-4) (59.4,1.1e-4) (59.4,6.5e-5)
(59.7,3.4e-4) (59.7,2.9e-4) (59.7,2.4e-4) (59.8,1.9e-4) (59.8,1.4e-4)
(64.5,1.8e-4) (64.5,1.5e-4) (64.6,1.3e-4) (64.6,9.0e-5)
(69.5,3.6e-4) (69.5,3.0e-4) (69.6,2.0e-4) (69.6,1.3e-4)
(70.3,7.0e-4) (70.3,5.8e-4) (70.3,4.9e-4) (70.4,3.5e-4) (70.4,3.0e-4) (70.4,2.0e-4) (70.5,1.35e-4)
(70.7,6.2e-4) (70.7,4.6e-4) (70.7,3.3e-4) (70.8,2.8e-4) (70.8,1.9e-4)
(73.4,5.4e-4) (73.4,4.6e-4) (73.4,4.1e-4) (73.5,3.0e-4) (73.5,2.0e-4) (73.5,1.6e-4)
(73.8,5.0e-4) (73.8,4.3e-4) (73.9,3.4e-4) (73.9,2.7e-4)
(74.5,4.0e-4) (74.5,3.3e-4) (74.5,2.7e-4) (74.6,1.7e-4) (74.6,9.5e-5)
(75.4,4.2e-4) (75.4,3.6e-4) (75.4,3.0e-4) (75.5,2.5e-4) (75.5,1.6e-4) (75.5,1.3e-4) (75.6,8.5e-5)
(80.5,1.7e-4) (80.5,1.4e-4) (80.6,9.0e-5)
(112.5,1.5e-4) (112.5,1.3e-4) (112.5,1.1e-4) (112.6,7.0e-5) (112.6,6.0e-5)
(128.5,2.3e-4) (128.5,2.0e-4) (128.5,1.6e-4) (128.6,1.0e-4) (128.6,8.5e-5)
(129.5,1.7e-4) (129.5,1.5e-4) (129.6,1.2e-4) (129.6,8.0e-5)
(130.4,2.6e-4) (130.4,2.2e-4) (130.4,1.9e-4) (130.5,1.6e-4) (130.5,1.1e-4) (130.5,9.0e-5)
(140.3,3.8e-4) (140.3,3.2e-4) (140.3,2.7e-4) (140.4,2.3e-4) (140.4,1.5e-4) (140.4,1.2e-4) (140.5,6.5e-5)
(140.7,4.0e-4) (140.7,3.5e-4) (140.7,2.1e-4) (140.8,1.4e-4) (140.8,1.05e-4)
(146.4,1.7e-4) (146.4,1.4e-4) (146.5,1.2e-4) (146.5,8.5e-5)
(150.3,2.3e-4) (150.3,2.0e-4) (150.3,1.7e-4) (150.4,1.0e-4) (150.4,8.5e-5)
(158.5,2.1e-4) (158.5,1.8e-4) (158.6,1.6e-4) (158.6,1.0e-4)
(159.5,1.8e-4) (159.5,1.6e-4) (159.6,1.1e-4)
(160.3,3.2e-4) (160.3,2.8e-4) (160.3,2.3e-4) (160.4,2.0e-4) (160.4,1.4e-4) (160.4,1.2e-4) (160.5,7.0e-5)
(160.7,3.0e-4) (160.7,2.4e-4) (160.8,1.9e-4) (160.8,1.5e-4)
};
% alpha detection limit
\addplot[alphalimst] table[x expr=\thisrow{d}+0.07, y=p] {\alphalimtab};
\addplot[alphalimst] table[x expr=\thisrow{d}+0.21, y=t] {\alphalimtab};
\addplot[alphalimst] table[x expr=\thisrow{d}+0.36, y=q] {\alphalimtab};
\addplot[alphalimst] table[x expr=\thisrow{d}+0.50, y=r] {\alphalimtab};
\addplot[alphalimst] table[x expr=\thisrow{d}+0.64, y=u] {\alphalimtab};
\addplot[alphalimst] table[x expr=\thisrow{d}+0.79, y=s] {\alphalimtab};
\addplot[alphalimst] table[x expr=\thisrow{d}+0.93, y=v] {\alphalimtab};
% alpha detected
\addplot[only marks, mark=square*, mark size=2.0pt, forget plot,
  mark options={fill=alphaor!80!black, draw=alphaedge, line width=0.6pt}] coordinates {
(31.9,7.7e-7) (33.3,3.5e-7) (59.6,4.9e-7) (66.1,1.8e-7) (71.6,2.2e-7)
(106.2,2.8e-7) (108.0,1.7e-7) (116.7,1.2e-7) (137.2,3.0e-7) (155.7,2.9e-7)};
% full-face mask limit
\addplot[gold, line width=1.5pt, forget plot] coordinates {(0,2e-2) (182,2e-2)};
% water level lowering dates
\addplot[red, line width=1.4pt, forget plot] coordinates {(150.5,1e-8) (150.5,1)};
\addplot[red, line width=1.4pt, forget plot] coordinates {(164.6,1e-8) (164.6,1)};
\node[anchor=base west, inner sep=0pt, font=\fontsize{14}{14}\selectfont] at (axis cs:109.3,0.0517) {全面マスク着用上限};
\node[anchor=base west, inner sep=0pt, font=\fontsize{14}{14}\selectfont] at (axis cs:109.3,0.0258) {(β：2.0E-2 Bq/cm3)};
\end{axis}
% annotation box
\draw[black, line width=1pt, fill=white] (768.5pt,473.5pt) rectangle (938.5pt,506.5pt);
\node[anchor=base west, inner sep=0pt, font=\fontsize{13.8}{13.8}\selectfont] at (772.5pt,492pt) {2/28 T.P.-2000⇒T.P.-2100};
\node[anchor=base west, inner sep=0pt, font=\fontsize{13.8}{13.8}\selectfont] at (772.5pt,477.5pt) {3/14 ⇒ T.P.-2200};
% red-line key
\draw[red, line width=2.5pt] (774.5pt,519.5pt) -- (795.5pt,519.5pt);
\node[anchor=base west, inner sep=0pt, font=\fontsize{14.5}{14.5}\selectfont] at (801.5pt,514pt) {：水位低下実施時期};
% title
\node[anchor=base, inner sep=0pt, font=\fontsize{14.8}{14.8}\selectfont] at (455.5pt,514pt) {１号機 R/B１階　連続ダストモニタ指示値};
% y label
\node[rotate=90, inner sep=0pt, text=labgray, font=\fontsize{18}{18}\selectfont] at (17pt,285pt) {空気中放射性物質濃度 [Bq/cm3]};
\end{tikzpicture}
\end{document}
